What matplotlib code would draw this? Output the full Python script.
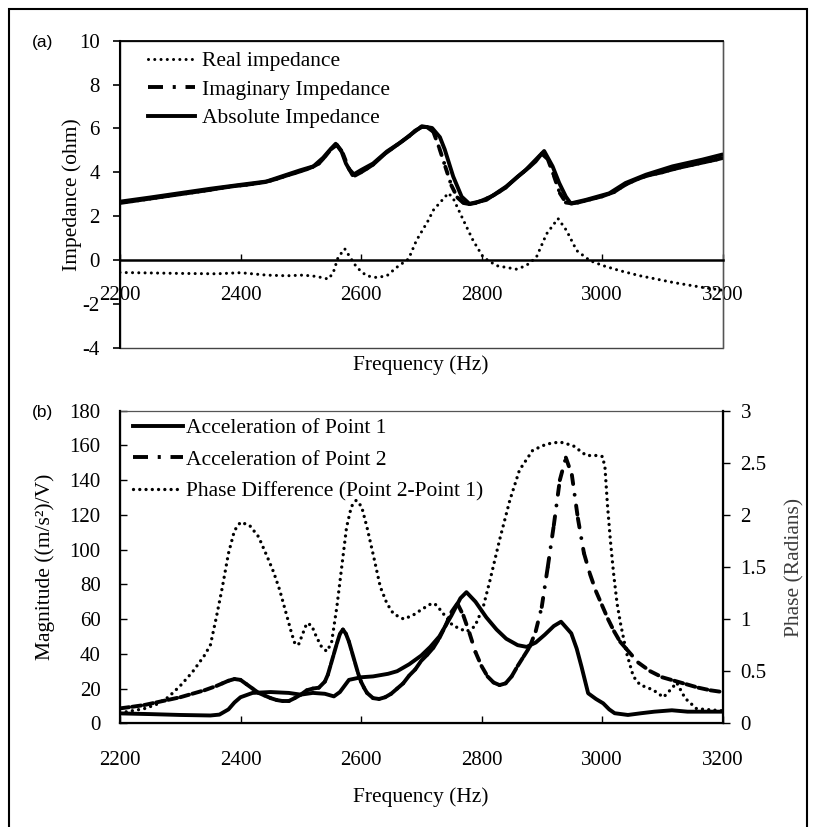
import numpy as np
import matplotlib
matplotlib.use("Agg")
import matplotlib.pyplot as plt
from matplotlib.collections import LineCollection
from matplotlib.lines import Line2D
from matplotlib.patches import Rectangle
from matplotlib.ticker import FuncFormatter, MultipleLocator

plt.rcParams['font.family'] = ['Liberation Serif', 'DejaVu Serif']
plt.rcParams['axes.unicode_minus'] = False
plt.rcParams['lines.scale_dashes'] = False

# ---------------- Data: panel (a) impedance ----------------
abs_f = [2200, 2250, 2300, 2350, 2400, 2443, 2477, 2499, 2521, 2537, 2549, 2558, 2567, 2575,
         2586, 2600, 2620, 2643, 2665, 2684, 2701, 2718, 2731, 2739, 2753, 2767, 2780, 2808,
         2841, 2874, 2904, 2918, 2929, 2940, 2948, 2973, 3012, 3039, 3073, 3117, 3167, 3200]
abs_z = [2.66, 2.85, 3.05, 3.25, 3.43, 3.58, 3.89, 4.09, 4.27, 4.66, 5.04, 5.3, 5.0, 4.4,
         3.87, 4.1, 4.4, 4.95, 5.35, 5.75, 6.1, 6.02, 5.6, 5.04, 3.81, 2.89, 2.56, 2.74,
         3.35, 4.12, 4.97, 4.27, 3.51, 2.89, 2.58, 2.74, 3.04, 3.51, 3.89, 4.27, 4.58, 4.81]

imag_f = list(range(2200, 3201, 10))
imag_z = [2.60, 2.64, 2.68, 2.72, 2.76, 2.80, 2.84, 2.88, 2.92, 2.96,
          3.00, 3.04, 3.08, 3.12, 3.16, 3.20, 3.25, 3.29, 3.33, 3.37,
          3.40, 3.43, 3.47, 3.51, 3.55, 3.62, 3.70, 3.79, 3.88, 3.96,
          4.05, 4.14, 4.25, 4.40, 4.70, 5.05, 5.25, 4.85, 4.15, 3.85,
          4.00, 4.17, 4.35, 4.60, 4.85, 5.05, 5.25, 5.45, 5.65, 5.90,
          6.05, 6.05, 5.85, 5.10, 4.25, 3.40, 2.85, 2.60, 2.55, 2.60,
          2.70, 2.82, 2.95, 3.12, 3.30, 3.55, 3.80, 4.02, 4.25, 4.50,
          4.85, 4.60, 3.85, 3.05, 2.62, 2.58, 2.62, 2.69, 2.76, 2.83,
          2.90, 3.00, 3.10, 3.28, 3.45, 3.58, 3.70, 3.80, 3.88, 3.94,
          4.00, 4.08, 4.15, 4.22, 4.28, 4.34, 4.40, 4.46, 4.52, 4.58, 4.65]

real_f = [2200, 2294, 2360, 2400, 2443, 2477, 2504, 2526, 2546, 2554, 2562, 2573, 2582, 2593,
          2609, 2626, 2643, 2659, 2679, 2692, 2712, 2720, 2745, 2753, 2770, 2786, 2803, 2825,
          2858, 2874, 2891, 2908, 2927, 2941, 2958, 2980, 3002, 3030, 3063, 3119, 3169, 3200]
real_z = [-0.57, -0.61, -0.63, -0.58, -0.69, -0.72, -0.69, -0.75, -0.87, -0.57, 0.12, 0.51, 0.12, -0.34,
          -0.72, -0.80, -0.72, -0.34, 0.05, 0.89, 1.82, 2.27, 3.05, 2.81, 1.81, 0.89, 0.12, -0.26,
          -0.42, -0.26, 0.12, 1.19, 1.89, 1.35, 0.43, -0.03, -0.26, -0.49, -0.72, -1.03, -1.26, -1.38]

# ---------------- Data: panel (b) accelerations and phase ----------------
p1_f = [2200, 2250, 2300, 2350, 2365, 2380, 2390, 2400, 2420, 2450, 2480, 2500, 2520, 2540,
        2555, 2565, 2580, 2600, 2620, 2645, 2660, 2680, 2700, 2715, 2730, 2750, 2765, 2775,
        2790, 2808, 2825, 2841, 2860, 2875, 2890, 2905, 2920, 2932, 2949, 2958, 2966, 2977,
        2990, 3002, 3012, 3021, 3043, 3065, 3087, 3116, 3142, 3170, 3200]
p1_a = [5.7, 5.3, 4.8, 4.5, 5.0, 8.0, 12.0, 15.0, 17.5, 18.0, 17.5, 16.5, 17.5, 17.0,
        15.5, 18.0, 25.0, 26.5, 27.0, 28.5, 30.0, 34.0, 39.0, 44.0, 50.0, 62.0, 72.0, 75.5,
        70.0, 61.0, 54.0, 48.7, 45.0, 44.0, 46.5, 51.0, 56.0, 58.5, 51.8, 43.0, 32.6, 17.3,
        14.0, 11.5, 8.0, 5.8, 4.8, 5.8, 6.7, 7.5, 6.7, 6.7, 6.7]

p2_f = [2200, 2220, 2240, 2260, 2280, 2300, 2320, 2340, 2360, 2370, 2380, 2390, 2400, 2410,
        2420, 2430, 2440, 2450, 2460, 2470, 2480, 2490, 2500, 2510, 2520, 2530, 2540, 2545,
        2550, 2555, 2560, 2565, 2570, 2575, 2580, 2585, 2590, 2595, 2600, 2605, 2610, 2620,
        2630, 2640, 2650, 2660, 2670, 2680, 2690, 2700, 2710, 2720, 2730, 2740, 2750, 2760,
        2770, 2780, 2790, 2800, 2810, 2820, 2830, 2840, 2850, 2860, 2870, 2880, 2890, 2900,
        2910, 2920, 2930, 2940, 2950, 2960, 2970, 2980, 2990, 3000, 3010, 3020, 3030, 3040,
        3060, 3080, 3100, 3120, 3140, 3160, 3180, 3200]
p2_a = [8.6, 9.5, 10.5, 12.0, 13.5, 15.0, 17.0, 19.0, 21.5, 23.0, 24.5, 25.5, 25.0, 22.5,
        20.0, 17.5, 16.0, 14.5, 13.4, 12.8, 12.8, 14.5, 16.5, 19.0, 20.0, 20.5, 24.0, 28.0,
        34.0, 40.0, 46.0, 51.5, 54.0, 51.5, 47.0, 41.0, 35.0, 29.0, 24.0, 20.5, 17.5, 14.5,
        14.0, 15.0, 17.0, 20.0, 23.0, 27.5, 31.0, 36.0, 39.5, 43.5, 49.0, 56.0, 64.0, 69.0,
        62.0, 52.0, 41.0, 33.0, 27.0, 23.5, 22.0, 23.0, 27.0, 33.0, 38.5, 44.0, 53.0, 67.0,
        90.0, 114.0, 140.0, 153.0, 143.0, 118.0, 98.0, 86.0, 76.0, 68.0, 60.0, 53.0, 47.0, 43.0,
        35.0, 30.0, 26.5, 24.5, 22.5, 20.5, 19.0, 18.0]

ph_f = [2200, 2220, 2240, 2260, 2280, 2300, 2320, 2340, 2350, 2360, 2370, 2380, 2390, 2400,
        2415, 2430, 2445, 2455, 2465, 2476, 2485, 2490, 2496, 2502, 2510, 2518, 2526, 2534,
        2543, 2551, 2560, 2568, 2576, 2584, 2592, 2601, 2610, 2621, 2632, 2643, 2654, 2671,
        2687, 2700, 2714, 2722, 2730, 2752, 2775, 2789, 2803, 2814, 2830, 2847, 2863, 2885,
        2908, 2930, 2952, 2974, 2990, 3001, 3005, 3009, 3014, 3019, 3025, 3031, 3041, 3052,
        3063, 3085, 3102, 3115, 3124, 3138, 3157, 3200]
ph_r = [0.10, 0.12, 0.14, 0.18, 0.25, 0.36, 0.49, 0.65, 0.75, 1.02, 1.31, 1.63, 1.85, 1.93,
        1.90, 1.79, 1.59, 1.45, 1.28, 1.05, 0.86, 0.77, 0.75, 0.84, 0.96, 0.94, 0.83, 0.74,
        0.69, 0.77, 1.12, 1.50, 1.88, 2.08, 2.14, 2.08, 1.88, 1.60, 1.31, 1.15, 1.05, 1.00,
        1.04, 1.09, 1.14, 1.15, 1.10, 0.94, 0.88, 0.93, 1.12, 1.37, 1.76, 2.14, 2.43, 2.62,
        2.68, 2.70, 2.665, 2.57, 2.57, 2.56, 2.45, 2.10, 1.75, 1.45, 1.15, 0.95, 0.67, 0.45,
        0.37, 0.32, 0.25, 0.33, 0.39, 0.24, 0.14, 0.12]

x_ticks = [2200, 2400, 2600, 2800, 3000, 3200]
imp_ticks = [-4, -2, 0, 2, 4, 6, 8, 10]

# ---------------- Styles ----------------
FS_TICK = 15
FS_TXT = 15.5
LW = 2.8
DASHDOT_IM = (0, (5.2, 6.0, 0.01, 6.0))
DASHDOT_P2 = (0, (6.6, 7.8, 0.01, 7.8))
DOT = (0, (0.01, 4.5))
LEG_DASHDOT = (0, (10.8, 7.0, 2.2, 7.0))


def segments(x, y):
    pts = np.column_stack([np.asarray(x, float), np.asarray(y, float)])
    return np.stack([pts[:-1], pts[1:]], axis=1)


fig = plt.figure(figsize=(8.16, 8.27), dpi=100)
W, H = 816.0, 827.0

# outer frame
fig.patches.append(Rectangle((9 / W, -0.02), (807 - 9) / W, 1 - 9 / H + 0.02, transform=fig.transFigure,
                             fill=False, edgecolor='black', linewidth=1.5, clip_on=False))

# ================= Panel (a) =================
ax1 = fig.add_axes([120 / W, 1 - 347.7 / H, 602.5 / W, 307 / H])
ax1.set_xlim(2200, 3200)
ax1.set_ylim(-4, 10)
ax1.plot(abs_f, abs_z, color='black', lw=LW, solid_joinstyle='round', solid_capstyle='round')
lc_im = LineCollection(segments(imag_f, imag_z), colors='black', linewidths=LW,
                       linestyles=[DASHDOT_IM], capstyle='round', joinstyle='round')
ax1.add_collection(lc_im, autolim=False)
ax1.plot(real_f, real_z, color='black', lw=2.2, ls=DOT, dash_capstyle='round')

ax1.set_xticks(x_ticks)
ax1.set_yticks(imp_ticks)
ax1.spines['bottom'].set_position(('data', 0))
ax1.spines['bottom'].set_linewidth(1.8)
ax1.spines['left'].set_linewidth(1.5)
ax1.spines['top'].set_linewidth(1.3)
ax1.spines['right'].set_linewidth(0.9)
ax1.spines['right'].set_color('#555555')
ax1.add_patch(Rectangle((0, 0), 1, 1, transform=ax1.transAxes, fill=False,
                        edgecolor='#444444', linewidth=1.0, clip_on=False, zorder=0.5))
ax1.tick_params(axis='y', direction='out', length=5, width=1.2, pad=9.5, labelsize=FS_TICK)
ax1.tick_params(axis='x', direction='in', length=4, width=1.0, pad=18.5, labelsize=FS_TICK)
ax1.set_ylabel('Impedance (ohm)', fontsize=FS_TXT)
ax1.yaxis.set_label_coords(-(120 - 82) / 602.5, 0.5)
fig.text(421 / W, 1 - 365 / H, 'Frequency (Hz)', ha='center', va='center', fontsize=FS_TXT)
fig.text(32 / W, 1 - 43 / H, '(a)', ha='left', va='center', fontsize=12.5, family=['Liberation Sans', 'DejaVu Sans'])

h_real = Line2D([], [], color='black', lw=2.2, ls=DOT, dash_capstyle='round')
h_imag = Line2D([], [], color='black', lw=LW, ls=LEG_DASHDOT, dash_capstyle='butt')
h_abs = Line2D([], [], color='black', lw=LW)
leg1 = ax1.legend([h_real, h_imag, h_abs], ['Real impedance', 'Imaginary Impedance', 'Absolute Impedance'],
                  loc='upper left', bbox_to_anchor=(148 / W, 1 - 51 / H), bbox_transform=fig.transFigure,
                  frameon=False, fontsize=FS_TXT, handlelength=2.2, handletextpad=0.3,
                  labelspacing=0.40, borderpad=0, borderaxespad=0)

# ================= Panel (b) =================
ax2 = fig.add_axes([120 / W, 1 - 723.3 / H, 602.5 / W, 312.6 / H])
ax2.set_xlim(2200, 3200)
ax2.set_ylim(0, 180)
ax2.plot(p1_f, p1_a, color='black', lw=LW, solid_joinstyle='round', solid_capstyle='round')
lc_p2 = LineCollection(segments(p2_f, p2_a), colors='black', linewidths=LW,
                       linestyles=[DASHDOT_P2], capstyle='round', joinstyle='round')
ax2.add_collection(lc_p2, autolim=False)
ax2.set_xticks(x_ticks)
ax2.yaxis.set_major_locator(MultipleLocator(20))
for s in ['left', 'bottom']:
    ax2.spines[s].set_linewidth(1.6)
ax2.spines['top'].set_linewidth(0.9)
ax2.spines['top'].set_color('#555555')
ax2.tick_params(axis='y', direction='in', length=5, width=1.0, pad=14, labelsize=FS_TICK)
ax2.tick_params(axis='x', direction='in', length=5, width=1.0, pad=20, labelsize=FS_TICK)
ax2.set_ylabel('Magnitude ((m/s²)/V)', fontsize=FS_TXT)
ax2.yaxis.set_label_coords(-(120 - 55) / 602.5, 0.5)
fig.text(421 / W, 1 - 797 / H, 'Frequency (Hz)', ha='center', va='center', fontsize=FS_TXT)
fig.text(32 / W, 1 - 413 / H, '(b)', ha='left', va='center', fontsize=12.5, family=['Liberation Sans', 'DejaVu Sans'])

ax3 = ax2.twinx()
ax3.plot(ph_f, ph_r, color='black', lw=2.4, ls=DOT, dash_capstyle='round')
ax3.set_ylim(0, 3)
ax3.yaxis.set_major_locator(MultipleLocator(0.5))
ax3.yaxis.set_major_formatter(FuncFormatter(lambda v, p: '%g' % v))
ax3.spines['right'].set_linewidth(1.6)
ax3.spines['top'].set_visible(False)
ax3.tick_params(axis='y', direction='out', length=5, width=1.0, pad=8, labelsize=FS_TICK)
ax3.set_ylabel('Phase (Radians)', fontsize=FS_TXT, color='#3c3c3c')
ax3.yaxis.set_label_coords(1 + (785 - 722.5) / 602.5, 0.5)

h_p1 = Line2D([], [], color='black', lw=LW)
h_p2 = Line2D([], [], color='black', lw=LW, ls=LEG_DASHDOT, dash_capstyle='butt')
h_ph = Line2D([], [], color='black', lw=2.4, ls=DOT, dash_capstyle='round')
leg2 = ax3.legend([h_p1, h_p2, h_ph],
                  ['Acceleration of Point 1', 'Acceleration of Point 2', 'Phase Difference (Point 2-Point 1)'],
                  loc='upper left', bbox_to_anchor=(133 / W, 1 - 418 / H), bbox_transform=fig.transFigure,
                  frameon=False, fontsize=FS_TXT, handlelength=2.3, handletextpad=0.15,
                  labelspacing=0.55, borderpad=0, borderaxespad=0)

fig.savefig('out.png', dpi=100)
